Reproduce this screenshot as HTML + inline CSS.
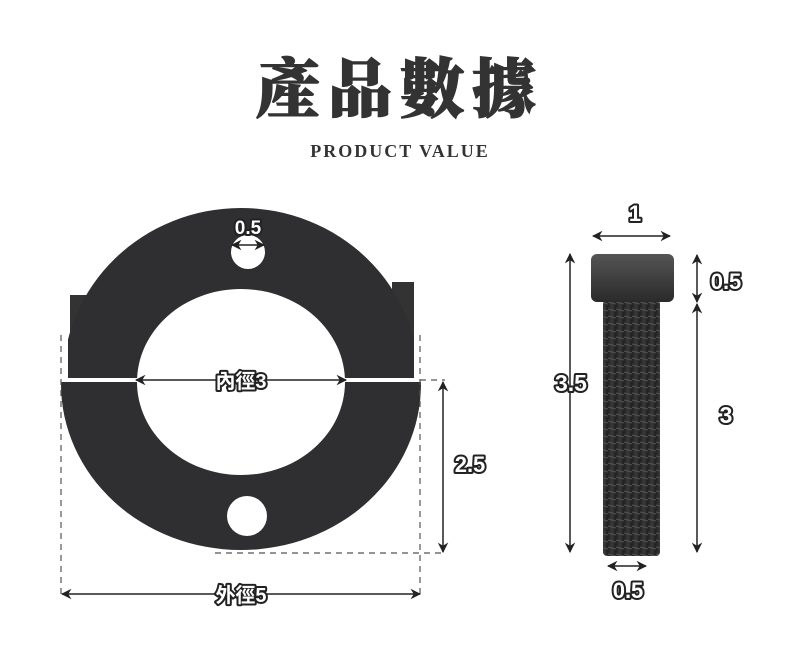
<!DOCTYPE html>
<html><head><meta charset="utf-8"><style>
html,body{margin:0;padding:0;background:#fff;}
svg{display:block}
.lbl{font-family:"Liberation Sans","Noto Sans CJK TC",sans-serif;font-weight:bold;fill:#fff;stroke:#222;stroke-width:4px;paint-order:stroke;stroke-linejoin:round}
</style></head><body>
<svg width="800" height="659" viewBox="0 0 800 659" xmlns="http://www.w3.org/2000/svg">
<defs>
<marker id="a" viewBox="0 0 10 10" refX="9" refY="5" markerWidth="7" markerHeight="7" orient="auto-start-reverse"><path d="M0,0L10,5L0,10L3,5Z" fill="#222"/></marker>
<linearGradient id="hd" x1="0" y1="0" x2="0" y2="1"><stop offset="0" stop-color="#555"/><stop offset="1" stop-color="#2a2a2a"/></linearGradient>
<linearGradient id="sh" x1="0" y1="0" x2="1" y2="0"><stop offset="0" stop-color="#222"/><stop offset=".5" stop-color="#3a3a3a"/><stop offset="1" stop-color="#1e1e1e"/></linearGradient>
<pattern id="th" width="8" height="7" patternUnits="userSpaceOnUse"><rect width="8" height="7" fill="url(#sh)"/><line x1="0" y1="1" x2="8" y2="3" stroke="#555" stroke-width="1"/></pattern>
<clipPath id="ct"><rect x="68" y="190" width="346" height="188"/></clipPath>
<clipPath id="cb"><rect x="60" y="382" width="362" height="180"/></clipPath>
<mask id="m"><rect width="800" height="659" fill="#fff"/><ellipse cx="241" cy="382" rx="104" ry="93" fill="#000"/><circle cx="248" cy="252" r="17" fill="#000"/><circle cx="247" cy="516" r="20" fill="#000"/></mask>
</defs>
<text x="400" y="112" text-anchor="middle" font-family="'Liberation Serif','Noto Serif CJK SC',serif" font-weight="900" font-size="64" fill="#333" letter-spacing="8" stroke="#333" stroke-width="1.5">產品數據</text>
<text x="400" y="157" text-anchor="middle" font-family="'Liberation Serif',serif" font-weight="bold" font-size="18" fill="#333" letter-spacing="2">PRODUCT  VALUE</text>

<!-- ring -->
<rect x="70" y="295" width="20" height="80" fill="#333"/>
<rect x="392" y="282" width="22" height="60" fill="#333"/>
<g mask="url(#m)">
<ellipse cx="241" cy="380" rx="178" ry="172" fill="#2f2f31" clip-path="url(#ct)"/>
<ellipse cx="241" cy="384" rx="180" ry="166" fill="#2f2f31" clip-path="url(#cb)"/>
</g>
<!-- dashed -->
<g stroke="#555" stroke-width="1.2" stroke-dasharray="6,5" fill="none">
<line x1="61" y1="335" x2="61" y2="595"/>
<line x1="420" y1="335" x2="420" y2="595"/>
<line x1="420" y1="380" x2="445" y2="380"/>
<line x1="215" y1="553" x2="445" y2="553"/>
</g>
<g stroke="#222" stroke-width="1.5" fill="none">
<line x1="232" y1="245" x2="264" y2="245" marker-start="url(#a)" marker-end="url(#a)"/>
<line x1="136" y1="380" x2="346" y2="380" marker-start="url(#a)" marker-end="url(#a)"/>
<line x1="443" y1="382" x2="443" y2="552" marker-start="url(#a)" marker-end="url(#a)"/>
<line x1="62" y1="594" x2="420" y2="594" marker-start="url(#a)" marker-end="url(#a)"/>
</g>
<text class="lbl" x="248" y="234" text-anchor="middle" font-size="19">0.5</text>
<text class="lbl" x="241" y="388" text-anchor="middle" font-size="20">內徑3</text>
<text class="lbl" x="470" y="472" text-anchor="middle" font-size="22">2.5</text>
<text class="lbl" x="241" y="602" text-anchor="middle" font-size="20">外徑5</text>

<!-- bolt -->
<rect x="603" y="300" width="57" height="256" rx="4" fill="url(#th)"/>
<rect x="591" y="254" width="83" height="48" rx="6" fill="url(#hd)"/>
<g stroke="#222" stroke-width="1.5" fill="none">
<line x1="593" y1="236" x2="670" y2="236" marker-start="url(#a)" marker-end="url(#a)"/>
<line x1="570" y1="254" x2="570" y2="552" marker-start="url(#a)" marker-end="url(#a)"/>
<line x1="697" y1="255" x2="697" y2="302" marker-start="url(#a)" marker-end="url(#a)"/>
<line x1="697" y1="304" x2="697" y2="552" marker-start="url(#a)" marker-end="url(#a)"/>
<line x1="608" y1="566" x2="646" y2="566" marker-start="url(#a)" marker-end="url(#a)"/>
</g>
<text class="lbl" x="635" y="221" text-anchor="middle" font-size="22">1</text>
<text class="lbl" x="726" y="289" text-anchor="middle" font-size="22">0.5</text>
<text class="lbl" x="571" y="391" text-anchor="middle" font-size="23">3.5</text>
<text class="lbl" x="726" y="423" text-anchor="middle" font-size="23">3</text>
<text class="lbl" x="628" y="598" text-anchor="middle" font-size="22">0.5</text>
</svg>
</body></html>
